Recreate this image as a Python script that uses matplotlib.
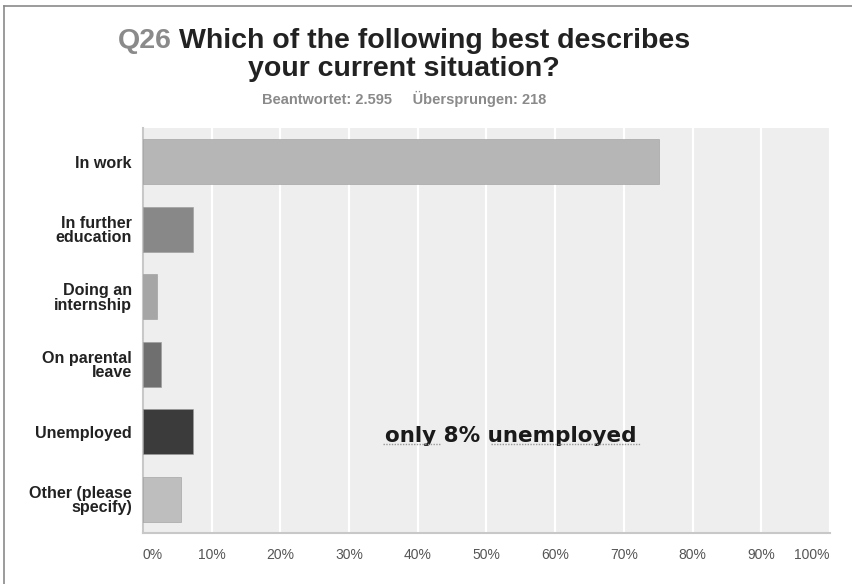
import matplotlib
matplotlib.use("Agg")
import matplotlib.pyplot as plt
from matplotlib.lines import Line2D

# survey answers (Q26)
categories = ["In work", "In further\neducation", "Doing an\ninternship",
              "On parental\nleave", "Unemployed", "Other (please\nspecify)"]
shares = [75.1, 7.3, 2.0, 2.6, 7.3, 5.5]          # percent
bar_colors = ["#b6b6b6", "#888888", "#a6a6a6", "#6f6f6f", "#3b3b3b", "#bebebe"]
xticks = [0, 10, 20, 30, 40, 50, 60, 70, 80, 90, 100]
xtick_labels = [f"{t}%" for t in xticks]

plt.rcParams["font.family"] = ["Liberation Sans", "DejaVu Sans"]

fig = plt.figure(figsize=(8.53, 5.84), dpi=100)
ax = fig.add_axes([0.1676, 0.0873, 0.8054, 0.6935])
ax.set_facecolor("#eeeeee")

y = range(len(categories))
ax.barh(y, shares, height=0.67, color=bar_colors, edgecolor="#9a9a9a", lw=0.4, zorder=3)
ax.set_ylim(len(categories) - 0.5, -0.5)
ax.set_xlim(0, 100)

ax.set_xticks(xticks)
ax.set_xticklabels(xtick_labels, fontsize=10, color="#555555")
labs = ax.get_xticklabels()
labs[0].set_ha("left")
labs[-1].set_ha("right")
ax.set_yticks(list(y))
ax.set_yticklabels(categories, fontsize=11.6, fontweight="bold", color="#222222",
                   linespacing=0.95)
ax.tick_params(axis="x", length=0, pad=11)
ax.tick_params(axis="y", length=0, pad=8)
ax.grid(axis="x", color="white", lw=1.6, zorder=1)
for s in ["top", "right"]:
    ax.spines[s].set_visible(False)
for s in ["left", "bottom"]:
    ax.spines[s].set_color("#c8c8c8")
    ax.spines[s].set_linewidth(1.5)

# titles
fig.text(0.138, 0.930, "Q26", fontsize=20.5, fontweight="bold", color="#8a8a8a",
         ha="left", va="center")
fig.text(0.2095, 0.930, "Which of the following best describes", fontsize=20.5,
         fontweight="bold", color="#222222", ha="left", va="center")
fig.text(0.474, 0.881, "your current situation?", fontsize=20.5,
         fontweight="bold", color="#222222", ha="center", va="center")
fig.text(0.474, 0.830, "Beantwortet: 2.595     Übersprungen: 218", fontsize=10.5,
         fontweight="bold", color="#8a8a8a", ha="center", va="center")

# annotation on the plot
ax.text(53.6, 4.07, "only 8% unemployed", fontsize=15.5, fontweight="bold",
        family=["DejaVu Sans"], color="#1a1a1a", ha="center", va="center", zorder=4)
for x0, x1 in [(0.449, 0.516), (0.576, 0.752)]:
    fig.add_artist(Line2D([x0, x1], [0.2397, 0.2397], color="#999999", lw=1,
                          ls=(0, (1, 1))))

# screenshot frame (left and top edges)
fig.add_artist(Line2D([0.005, 0.005], [0.0, 0.99], color="#8a8a8a", lw=1.2))
fig.add_artist(Line2D([0.005, 1.0], [0.99, 0.99], color="#8a8a8a", lw=1.2))

fig.savefig("out.png", dpi=100)
